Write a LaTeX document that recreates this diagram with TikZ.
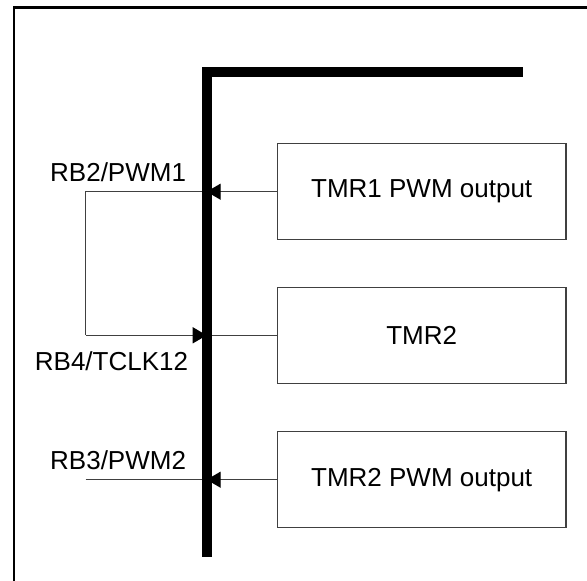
\documentclass[tikz,border=0pt]{standalone}
\usepackage{fontspec}
\setmainfont{Liberation Sans}
\usetikzlibrary{arrows.meta}
\definecolor{wire}{RGB}{64,64,64}
\tikzset{
  blk/.style={draw=wire, line width=1.4pt, minimum width=288.7pt, minimum height=96pt, inner sep=0pt, font=\fontsize{26}{30}\selectfont},
  lbl/.style={inner sep=0pt, font=\fontsize{26}{30}\selectfont},
  wireline/.style={draw=wire, line width=1.4pt},
  tip/.style={-{Triangle[length=14pt,width=16pt,color=black]}},
  busline/.style={line width=10pt, line join=miter, line cap=butt}
}
\begin{document}
\begin{tikzpicture}[x=1pt,y=-1pt]
\useasboundingbox (0,0) rectangle (587,581);
% partial frame
\draw[line width=2.5pt] (13.8,581) -- (13.8,7.5) -- (587,7.5);
% blocks
\node[blk] (t1) at (421.7,191.7) {TMR1 PWM output};
\node[blk] (t2) at (421.7,335.3) {TMR2};
\node[blk] (t3) at (421.7,479.7) {TMR2 PWM output};
% bus points
\coordinate (b1) at (206.7,191.7);
\coordinate (b2) at (206.7,335.3);
\coordinate (b3) at (206.7,479.7);
\coordinate (l1) at (85.7,191.7);
\coordinate (l2) at (85.7,335.3);
\coordinate (l3) at (85.7,479.7);
\coordinate (busbot) at (206.7,556.7);
\coordinate (buscorner) at (206.7,71.7);
\coordinate (busend) at (523,71.7);
% connectors
\draw[wireline, tip] (t1.west) -- (b1);
\draw[wireline] (b1) -- (l1) -- (l2);
\draw[wireline, tip] (l2) -- (b2);
\draw[wireline] (b2) -- (t2.west);
\draw[wireline, tip] (t3.west) -- (b3);
\draw[wireline] (l3) -- (b3);
% bus
\draw[busline] (busbot) -- (buscorner) -- (busend);
% labels
\node[lbl, anchor=base west] (p1) at (50,181.7) {RB2/PWM1};
\node[lbl, anchor=base east] (p2) at (188.3,370) {RB4/TCLK12};
\node[lbl, anchor=base west] (p3) at (50,469) {RB3/PWM2};
\end{tikzpicture}
\end{document}
